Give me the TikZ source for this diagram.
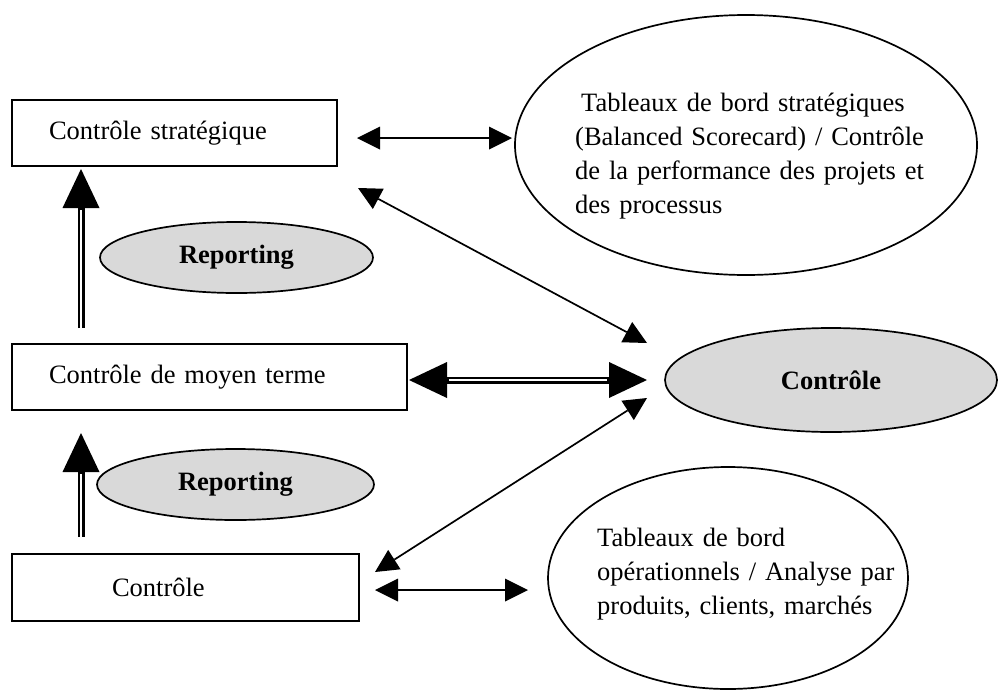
\documentclass[tikz,border=0pt]{standalone}
\usepackage{fontspec}
\setmainfont{Liberation Serif}
\usetikzlibrary{shapes.geometric,arrows.meta}
\definecolor{bubblegray}{HTML}{D9D9D9}
\tikzset{
  txt/.style={font=\fontsize{26.5pt}{34pt}\selectfont},
  level/.style={txt, rectangle, draw, line width=2pt, align=left,
    inner ysep=0pt},
  bubble/.style={ellipse, draw, line width=1.7pt, inner sep=0pt},
  graybubble/.style={bubble, fill=bubblegray,
    font=\fontsize{26.5pt}{34pt}\selectfont\bfseries},
  bubbletext/.style={txt, anchor=west, align=left, inner sep=0pt},
  thinarrow/.style={line width=1.7pt, {Triangle[length=23pt,width=23pt,line width=0pt]}-{Triangle[length=23pt,width=23pt,line width=0pt]}},
  uparrow/.style={line width=7pt, -{Triangle[length=39pt,width=37pt,line width=0pt]},
    postaction={draw=white, line width=2.5pt, arrows=-, shorten >=41pt}},
  bothdouble/.style={line width=7pt,
    {Triangle[length=38pt,width=36pt,line width=0pt]}-{Triangle[length=38pt,width=36pt,line width=0pt]},
    postaction={draw=white, line width=2.5pt, arrows=-, shorten >=40pt, shorten <=40pt}},
}
\begin{document}
\begin{tikzpicture}[x=1pt,y=-1pt]
\useasboundingbox (0,0) rectangle (1001,691);

% control levels
\node[level, text width=251pt, inner xsep=37pt, minimum height=66pt] (strat) at (174.5,133) {Contrôle stratégique};
\node[level, text width=321pt, inner xsep=37pt, minimum height=66pt] (moyen) at (209.5,377) {Contrôle de moyen terme};
\node[level, text width=147pt, inner xsep=100pt, minimum height=67pt] (oper) at (185.5,587.5) {Contrôle};

% reporting bubbles
\node[graybubble, minimum width=273pt, minimum height=71pt] (rep1) at (236.5,257.5) {Reporting};
\node[graybubble, minimum width=277pt, minimum height=71pt] (rep2) at (235.5,484.5) {Reporting};

% central control bubble
\node[graybubble, minimum width=332pt, minimum height=104pt] (ctrl) at (831,380) {\raisebox{-6pt}{Contrôle}};

% dashboard bubbles
\node[bubble, minimum width=462pt, minimum height=260pt] (tbs) at (746,145) {};
\node[bubbletext, text width=380pt] (tbstext) at (575,156)
  {\hspace*{6pt}Tableaux de bord stratégiques\\(Balanced Scorecard) / Contrôle\\de la performance des projets et\\des processus};
\node[bubble, minimum width=360pt, minimum height=222pt] (tbo) at (728,578) {};
\node[bubbletext, text width=340pt] (tbotext) at (597,574)
  {Tableaux de bord\\opérationnels / Analyse par\\produits, clients, marchés};

% connector end points
\coordinate (s1) at (357,138);  \coordinate (s2) at (512,138);
\coordinate (d1) at (358,188);  \coordinate (d2) at (647,343);
\coordinate (m1) at (409,380);  \coordinate (m2) at (647,380);
\coordinate (e1) at (647,398);  \coordinate (e2) at (375,572);
\coordinate (o1) at (375,590);  \coordinate (o2) at (528,590);
\coordinate (u1) at (81,328);   \coordinate (u2) at (81,169);
\coordinate (v1) at (81,537);   \coordinate (v2) at (81,433);

% connectors
\draw[thinarrow] (s1) -- (s2);
\draw[thinarrow] (d1) -- (d2);
\draw[bothdouble] (m1) -- (m2);
\draw[thinarrow] (e1) -- (e2);
\draw[thinarrow] (o1) -- (o2);
\draw[uparrow] (u1) -- (u2);
\draw[uparrow] (v1) -- (v2);
\end{tikzpicture}
\end{document}
